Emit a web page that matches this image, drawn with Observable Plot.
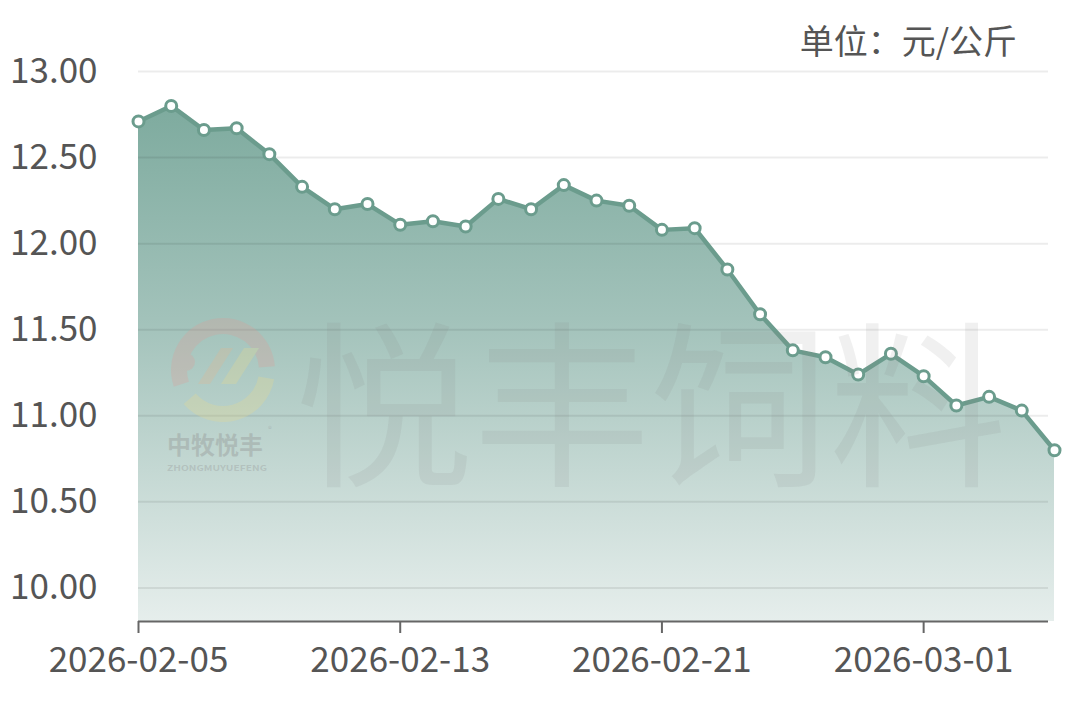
<!DOCTYPE html>
<html><head><meta charset="utf-8">
<script src="https://cdn.jsdelivr.net/npm/d3@7"></script>
<script src="https://cdn.jsdelivr.net/npm/@observablehq/plot@0.6"></script>
<style>
html,body{margin:0;padding:0;background:#fff;width:1080px;height:707px;overflow:hidden;font-family:"Noto Sans CJK SC",sans-serif;}
#wrap{position:relative;width:1080px;height:707px;}
#wrap > svg{position:absolute;left:0;top:0;}
#overlay{pointer-events:none;}
</style>
</head><body>
<div id="wrap"></div>
<script>
const dates = [
  "2026-02-05","2026-02-06","2026-02-07","2026-02-08","2026-02-09","2026-02-10","2026-02-11",
  "2026-02-12","2026-02-13","2026-02-14","2026-02-15","2026-02-16","2026-02-17","2026-02-18",
  "2026-02-19","2026-02-20","2026-02-21","2026-02-22","2026-02-23","2026-02-24","2026-02-25",
  "2026-02-26","2026-02-27","2026-02-28","2026-03-01","2026-03-02","2026-03-03","2026-03-04","2026-03-05"
];
const prices = [
  12.71, 12.80, 12.66, 12.67, 12.52, 12.33, 12.20,
  12.23, 12.11, 12.13, 12.10, 12.26, 12.20, 12.34,
  12.25, 12.22, 12.08, 12.09, 11.85, 11.59, 11.38,
  11.34, 11.24, 11.36, 11.23, 11.06, 11.11, 11.03, 10.80
];
const yTicks = [10, 10.5, 11, 11.5, 12, 12.5, 13];
const xTicks = ["2026-02-05", "2026-02-13", "2026-02-21", "2026-03-01"];
const unitText = "单位：元/公斤";
const watermark = "悦丰饲料";
const logoName = "中牧悦丰";
const logoLatin = "ZHONGMUYUEFENG";

const parse = s => new Date(s + "T00:00:00Z");
const data = dates.map((d, i) => ({date: parse(d), price: prices[i]}));
const yMin = 9.805, yMax = 13;
const lineColor = "#6b9c8d";
const textColor = "#555";
const font = '"Noto Sans CJK SC", "Noto Sans", sans-serif';

const chart = Plot.plot({
  width: 1080, height: 707,
  marginLeft: 138, marginRight: 26, marginTop: 71, marginBottom: 86,
  style: {fontFamily: font, fontSize: "35px", color: textColor, background: "transparent"},
  x: {type: "utc", domain: [data[0].date, data[data.length - 1].date], label: null},
  y: {domain: [yMin, yMax], label: null},
  marks: [
    Plot.areaY(data, {x: "date", y1: yMin, y2: "price", fill: "url(#areaGrad)"}),
    Plot.ruleY(yTicks, {stroke: "#000", strokeOpacity: 0.075, strokeWidth: 2, insetRight: 6}),
    Plot.ruleY([yMin], {stroke: "#666", strokeWidth: 2, insetRight: 6}),
    Plot.axisX(xTicks.map(parse), {tickSize: 12, tickPadding: 14, tickFormat: d3.utcFormat("%Y-%m-%d"),
      stroke: "#666", strokeWidth: 2, fill: textColor, fontSize: 35, label: null}),
    Plot.axisY(yTicks, {tickSize: 0, tickPadding: 41, tickFormat: d => d.toFixed(2),
      fill: textColor, fontSize: 35, label: null}),
    Plot.lineY(data, {x: "date", y: "price", stroke: lineColor, strokeWidth: 4.5}),
    Plot.dot(data, {x: "date", y: "price", r: 5.5, fill: "#fff", stroke: lineColor, strokeWidth: 3})
  ]
});

const ys = chart.scale("y");
const defs = d3.select(chart).insert("defs", ":first-child");
const grad = defs.append("linearGradient").attr("id", "areaGrad")
  .attr("gradientUnits", "userSpaceOnUse")
  .attr("x1", 0).attr("x2", 0).attr("y1", ys.apply(yMax)).attr("y2", ys.apply(yMin));
grad.append("stop").attr("offset", 0).attr("stop-color", "#78a79a");
grad.append("stop").attr("offset", 0.45).attr("stop-color", "#a2c2ba");
grad.append("stop").attr("offset", 1).attr("stop-color", "#e6eeec");

const wrap = document.getElementById("wrap");
wrap.appendChild(chart);

// overlay: unit label, watermark and logo
const ov = d3.select(wrap).append("svg").attr("id", "overlay")
  .attr("width", 1080).attr("height", 707).style("font-family", font);

ov.append("text").attr("x", 1017).attr("y", 39)
  .attr("text-anchor", "end").attr("dominant-baseline", "central")
  .attr("font-size", 34).attr("fill", textColor).text(unitText);

ov.append("text").attr("x", 651).attr("y", 395)
  .attr("text-anchor", "middle").attr("dominant-baseline", "central")
  .attr("font-size", 178).attr("fill", "#808080").attr("fill-opacity", 0.12).text(watermark);

// logo emblem (faint)
const lg = ov.append("g").attr("opacity", 0.26);
const cx = 223, cy = 370, r = 46;
const arc = d3.arc();
lg.append("path").attr("transform", `translate(${cx},${cy})`)
  .attr("d", arc({innerRadius: r - 10, outerRadius: r + 6, startAngle: -1.9, endAngle: 1.5}))
  .attr("fill", "#e29a94");
lg.append("path").attr("transform", `translate(${cx},${cy})`)
  .attr("d", arc({innerRadius: r - 10, outerRadius: r + 6, startAngle: 1.75, endAngle: 4.0}))
  .attr("fill", "#eedc8a");
lg.append("circle").attr("cx", cx - 37).attr("cy", cy - 8).attr("r", 9).attr("fill", "#e29a94");
lg.append("path").attr("d", `M${cx-25},${cy+14} L${cx-2},${cy-22} L${cx+10},${cy-22} L${cx-13},${cy+14} Z`).attr("fill", "#e8b58c");
lg.append("path").attr("d", `M${cx-2},${cy+14} L${cx+21},${cy-22} L${cx+36},${cy-22} L${cx+13},${cy+14} Z`).attr("fill", "#eedc8a");
ov.append("text").attr("x", 167).attr("y", 443).attr("dominant-baseline", "central")
  .attr("font-size", 24).attr("font-weight", 700).attr("fill", "#8c8c8c").attr("fill-opacity", 0.35)
  .text(logoName);
ov.append("text").attr("x", 268).attr("y", 432).attr("font-size", 8).attr("fill", "#8c8c8c").attr("fill-opacity", 0.35).text("®");
ov.append("text").attr("x", 167).attr("y", 467).attr("dominant-baseline", "central")
  .attr("font-size", 8).attr("font-weight", 700).attr("fill", "#8c8c8c").attr("fill-opacity", 0.3)
  .attr("textLength", 100).attr("lengthAdjust", "spacingAndGlyphs").text(logoLatin);
</script>
</body></html>
